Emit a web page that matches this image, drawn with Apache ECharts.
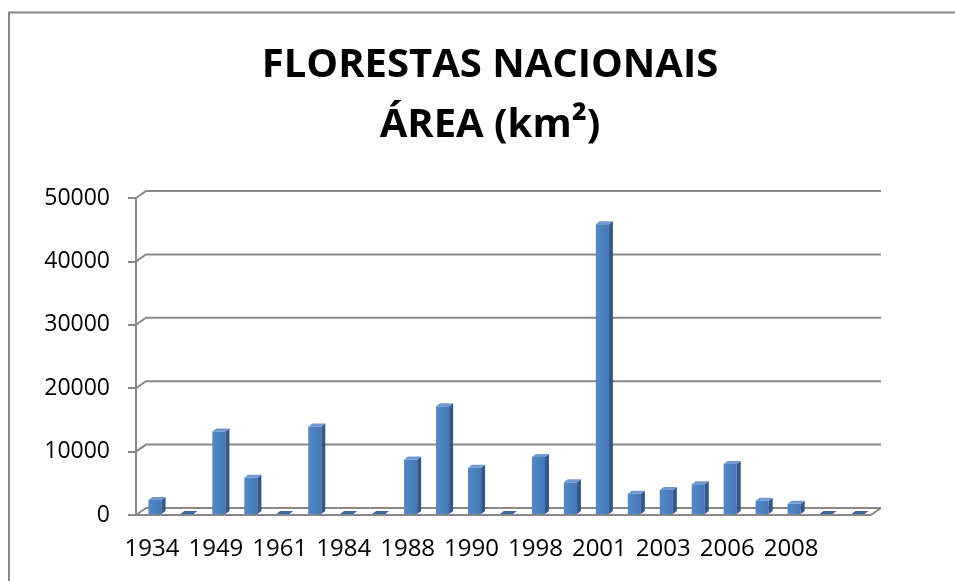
<!DOCTYPE html>
<html>
<head>
<meta charset="utf-8">
<title>Florestas Nacionais - Área</title>
<script src="https://cdn.jsdelivr.net/npm/echarts@6/dist/echarts.min.js"></script>
<style>
  html, body { margin: 0; padding: 0; background: #fff; }
  #chart { width: 955px; height: 581px; }
</style>
</head>
<body>
<div id="chart"></div>
<script>
// rótulos visíveis no eixo (as categorias sem rótulo ficam vazias)
var categories = ['1934', '', '1949', '', '1961', '', '1984', '', '1988', '', '1990', '',
  '1998', '', '2001', '', '2003', '', '2006', '', '2008', '', '']
// área em km²
var areaKm2 = [2200, 0, 13000, 5700, 0, 13800, 0, 0, 8600, 17000, 7300, 0,
  9000, 5000, 45700, 3200, 3800, 4700, 7900, 2100, 1600, 0, 0]
var yTicks = [0, 10000, 20000, 30000, 40000, 50000]

var GRAY = '#888888'
var DEPTH_X = 10, DEPTH_Y = -7   // deslocamento da parede do fundo
var BAR_DX = 4, BAR_DY = -3      // profundidade da coluna

var chart = echarts.init(document.getElementById('chart'))

function renderWall(params, api) {
  var cs = params.coordSys
  var p = api.coord([0, api.value(0)])
  var y = p[1]
  var left = cs.x, right = cs.x + cs.width
  var children = [{
    type: 'polyline',
    shape: { points: [[left, y], [left + DEPTH_X, y + DEPTH_Y], [right + DEPTH_X, y + DEPTH_Y]] },
    style: { stroke: GRAY, lineWidth: 2, fill: null }
  }]
  if (api.value(0) === 0) {
    children.push({
      type: 'line',
      shape: { x1: right, y1: y, x2: right + DEPTH_X, y2: y + DEPTH_Y },
      style: { stroke: GRAY, lineWidth: 2 }
    })
  }
  return { type: 'group', children: children }
}

function renderBar(params, api) {
  var idx = api.value(0)
  var top = api.coord([idx, api.value(1)])
  var base = api.coord([idx, 0])
  var w = api.size([1, 0])[0] * 0.41
  var xl = top[0] - w / 2 + 3
  var xr = xl + w
  var yt = top[1] - 1
  var yb = base[1] - 1
  var children = []
  if (yb - yt > 0.5) {
    children.push({
      type: 'rect',
      shape: { x: xl, y: yt, width: w, height: yb - yt },
      style: {
        fill: new echarts.graphic.LinearGradient(0, 0, 1, 0, [
          { offset: 0, color: '#5588c6' },
          { offset: 1, color: '#4477b6' }
        ])
      }
    })
    children.push({
      type: 'polygon',
      shape: { points: [[xr, yt], [xr + BAR_DX, yt + BAR_DY], [xr + BAR_DX, yb + BAR_DY], [xr, yb]] },
      style: { fill: '#33598a' }
    })
    children.push({
      type: 'polygon',
      shape: { points: [[xl, yt], [xl + BAR_DX, yt + BAR_DY], [xr + BAR_DX, yt + BAR_DY], [xr, yt]] },
      style: { fill: '#6f99d0' }
    })
  } else {
    children.push({
      type: 'polygon',
      shape: { points: [[xl, yb], [xl + BAR_DX, yb + BAR_DY], [xr + BAR_DX, yb + BAR_DY], [xr, yb]] },
      style: { fill: '#3a66a3' }
    })
  }
  return { type: 'group', children: children }
}

chart.setOption({
  animation: false,
  title: {
    text: 'FLORESTAS NACIONAIS\nÁREA (km²)',
    left: 490,
    top: 36,
    padding: 0,
    textAlign: 'center',
    textStyle: {
      fontFamily: 'Open Sans',
      fontWeight: 'bold',
      fontSize: 40,
      lineHeight: 60,
      color: '#000'
    }
  },
  graphic: [{
    type: 'rect',
    shape: { x: 9, y: 12.5, width: 1200, height: 1200 },
    style: { fill: null, stroke: '#878787', lineWidth: 2 },
    silent: true
  }],
  grid: { left: 136, right: 84, top: 198, bottom: 66 },
  xAxis: {
    type: 'category',
    data: categories,
    boundaryGap: true,
    axisLine: { lineStyle: { color: GRAY, width: 2 } },
    axisTick: { interval: 0, length: 8, lineStyle: { color: GRAY, width: 2 } },
    axisLabel: {
      interval: 0,
      margin: 22,
      fontFamily: 'Open Sans',
      fontSize: 24,
      color: '#000'
    },
    splitLine: { show: false }
  },
  yAxis: {
    type: 'value',
    min: 0,
    max: 50000,
    interval: 10000,
    axisLine: { show: true, lineStyle: { color: GRAY, width: 2 } },
    axisTick: { show: true, length: 8, lineStyle: { color: GRAY, width: 2 } },
    axisLabel: {
      margin: 26,
      fontFamily: 'Open Sans',
      fontSize: 23,
      color: '#000',
      formatter: function (v) { return String(v) }
    },
    splitLine: { show: false }
  },
  series: [{
    type: 'custom',
    name: 'parede',
    silent: true,
    renderItem: renderWall,
    encode: { y: 0 },
    data: yTicks.map(function (v) { return [v] }),
    z: 1
  }, {
    type: 'custom',
    name: 'Área (km²)',
    renderItem: renderBar,
    encode: { x: 0, y: 1 },
    data: areaKm2.map(function (v, i) { return [i, v] }),
    z: 3
  }]
})
</script>
</body>
</html>
